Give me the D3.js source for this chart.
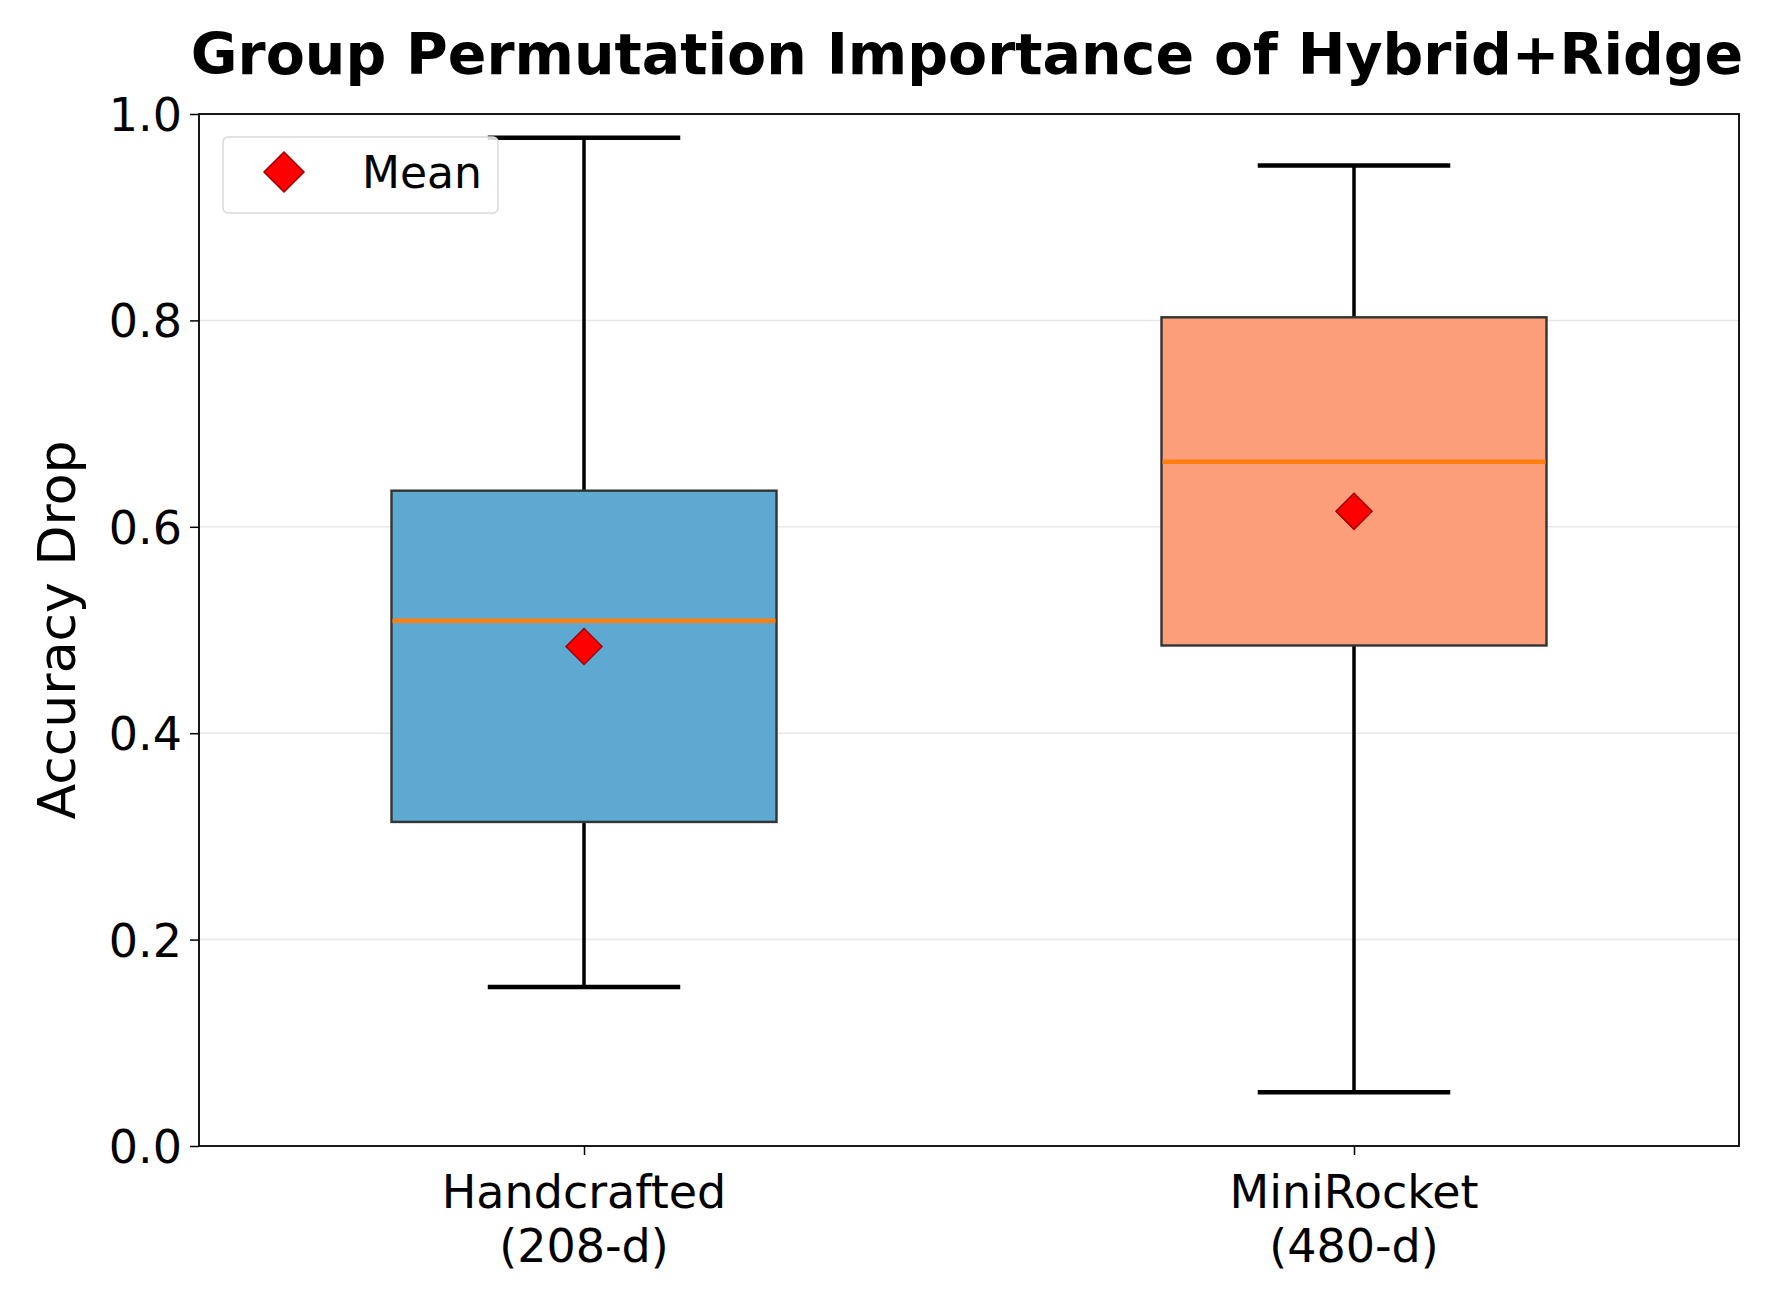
<!DOCTYPE html>
<meta charset='utf-8'>
<style>
body { margin: 0; background: #fff; }
text { font-family: 'DejaVu Sans', sans-serif; fill: #000; }
</style>
<svg width='1774' height='1305'></svg>
<script src='https://d3js.org/d3.v7.min.js'></script>
<script>

// data
var groupNames  = ['Handcrafted', 'MiniRocket'];
var groupDims   = ['(208-d)', '(480-d)'];
var whiskerLow  = [0.154, 0.052];
var q1          = [0.314, 0.485];
var median      = [0.509, 0.663];
var q3          = [0.635, 0.803];
var whiskerHigh = [0.977, 0.950];
var means       = [0.484, 0.615];
var boxColors   = ['#5da9d2', '#fc9e7a'];
var yTicks      = [0.0, 0.2, 0.4, 0.6, 0.8, 1.0];

var svg = d3.select('svg'),
    margin = {left: 199, right: 35, top: 114, bottom: 159},
    width = +svg.attr('width'),
    height = +svg.attr('height');

var x = d3.scaleLinear().domain([0.5, 2.5]).range([margin.left, width - margin.right]);
var y = d3.scaleLinear().domain([0, 1]).range([height - margin.bottom, margin.top]);

var boxes = groupNames.map(function(name, i) {
    return {pos: i + 1, name: name, dims: groupDims[i], lo: whiskerLow[i], q1: q1[i],
            med: median[i], q3: q3[i], hi: whiskerHigh[i], mean: means[i], color: boxColors[i]};
});

// grid
svg.append('g')
    .selectAll('line')
    .data(yTicks.filter(function(d) { return d > 0 && d < 1; }))
    .enter().append('line')
    .attr('x1', x.range()[0]).attr('x2', x.range()[1])
    .attr('y1', function(d) { return y(d); }).attr('y2', function(d) { return y(d); })
    .attr('stroke', '#e8e8e8').attr('stroke-width', 1.5);

// y axis
var yAxis = svg.append('g')
    .attr('transform', 'translate(' + margin.left + ',0)')
    .call(d3.axisLeft(y).tickValues(yTicks).tickFormat(d3.format('.1f')).tickSize(9).tickPadding(8));
yAxis.select('.domain').remove();
yAxis.selectAll('line').attr('stroke', '#000').attr('stroke-width', 1.5);
yAxis.selectAll('text').style('font-size', '46px').attr('dy', '0.36em');

// x axis
var xAxis = svg.append('g')
    .attr('transform', 'translate(0,' + (height - margin.bottom) + ')')
    .call(d3.axisBottom(x).tickValues([1, 2]).tickFormat('').tickSize(9));
xAxis.select('.domain').remove();
xAxis.selectAll('line').attr('stroke', '#000').attr('stroke-width', 1.5);

var xl = svg.append('g').selectAll('text')
    .data(boxes).enter().append('text')
    .attr('x', function(d) { return x(d.pos); })
    .attr('y', height - margin.bottom + 62)
    .attr('text-anchor', 'middle')
    .style('font-size', '46px');
xl.append('tspan').attr('x', function(d) { return x(d.pos); }).text(function(d) { return d.name; });
xl.append('tspan').attr('x', function(d) { return x(d.pos); }).attr('dy', 54).text(function(d) { return d.dims; });

// boxes
var bw = 0.5;
var g = svg.append('g').selectAll('g').data(boxes).enter().append('g');

g.append('line')
    .attr('x1', function(d) { return x(d.pos); }).attr('x2', function(d) { return x(d.pos); })
    .attr('y1', function(d) { return y(d.q3); }).attr('y2', function(d) { return y(d.hi); })
    .attr('stroke', '#000').attr('stroke-width', 3.5);
g.append('line')
    .attr('x1', function(d) { return x(d.pos); }).attr('x2', function(d) { return x(d.pos); })
    .attr('y1', function(d) { return y(d.q1); }).attr('y2', function(d) { return y(d.lo); })
    .attr('stroke', '#000').attr('stroke-width', 3.5);
['hi', 'lo'].forEach(function(k) {
    g.append('line')
        .attr('x1', function(d) { return x(d.pos - bw / 4); }).attr('x2', function(d) { return x(d.pos + bw / 4); })
        .attr('y1', function(d) { return y(d[k]); }).attr('y2', function(d) { return y(d[k]); })
        .attr('stroke', '#000').attr('stroke-width', 4.5);
});

g.append('rect')
    .attr('x', function(d) { return x(d.pos - bw / 2); })
    .attr('width', function(d) { return x(d.pos + bw / 2) - x(d.pos - bw / 2); })
    .attr('y', function(d) { return y(d.q3); })
    .attr('height', function(d) { return y(d.q1) - y(d.q3); })
    .attr('fill', function(d) { return d.color; })
    .attr('stroke', '#333').attr('stroke-width', 2.4);

g.append('line')
    .attr('x1', function(d) { return x(d.pos - bw / 2) + 1; }).attr('x2', function(d) { return x(d.pos + bw / 2) - 1; })
    .attr('y1', function(d) { return y(d.med); }).attr('y2', function(d) { return y(d.med); })
    .attr('stroke', '#ff7f0e').attr('stroke-width', 4.5);

var diamond = function(cx, cy, r) {
    return 'M' + cx + ',' + (cy - r) + 'L' + (cx + r) + ',' + cy + 'L' + cx + ',' + (cy + r) + 'L' + (cx - r) + ',' + cy + 'Z';
};
g.append('path')
    .attr('d', function(d) { return diamond(x(d.pos), y(d.mean), 18); })
    .attr('fill', '#ff0000').attr('stroke', '#a00000').attr('stroke-width', 1.5);

// frame
svg.append('rect')
    .attr('x', x.range()[0]).attr('y', y.range()[1])
    .attr('width', x.range()[1] - x.range()[0])
    .attr('height', y.range()[0] - y.range()[1])
    .attr('fill', 'none').attr('stroke', '#000').attr('stroke-width', 1.8);

// legend
var leg = svg.append('g').attr('transform', 'translate(223,137)');
leg.append('rect')
    .attr('width', 275).attr('height', 76).attr('rx', 5)
    .attr('fill', '#fff').attr('fill-opacity', 0.85)
    .attr('stroke', '#d9d9d9').attr('stroke-width', 1.5);
leg.append('path').attr('d', diamond(61, 35, 20))
    .attr('fill', '#ff0000').attr('stroke', '#a00000').attr('stroke-width', 1.5);
leg.append('text').attr('x', 139).attr('y', 35).attr('dy', '0.36em')
    .style('font-size', '44px').text('Mean');

// title
svg.append('text')
    .attr('x', (x.range()[0] + x.range()[1]) / 2 - 2)
    .attr('y', 74)
    .attr('text-anchor', 'middle')
    .style('font-size', '57px').style('font-weight', 'bold')
    .text('Group Permutation Importance of Hybrid+Ridge');

// y label
svg.append('text')
    .attr('transform', 'translate(75,' + y(0.5) + ') rotate(-90)')
    .attr('text-anchor', 'middle')
    .style('font-size', '52px')
    .text('Accuracy Drop');

</script>
